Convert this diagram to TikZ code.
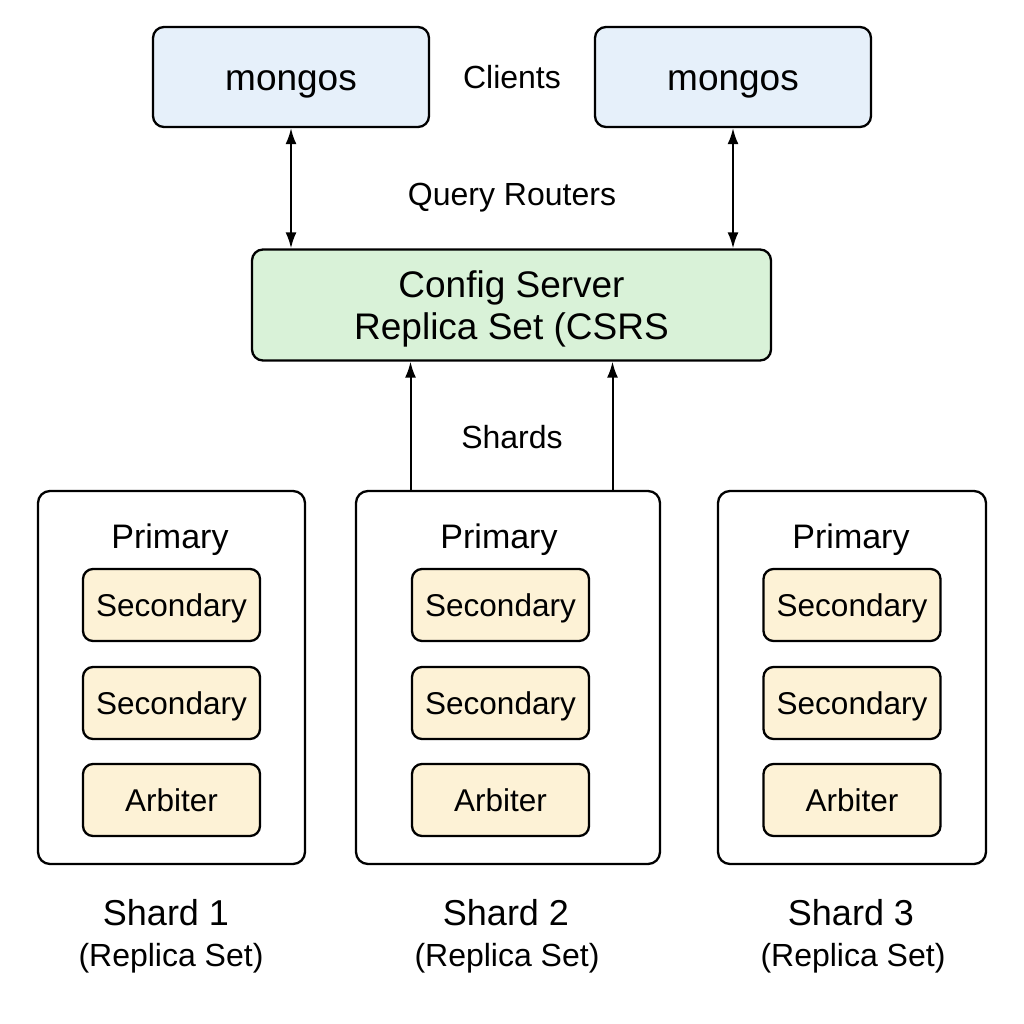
\documentclass[tikz,border=0pt]{standalone}
\usepackage{fontspec}
\setmainfont{Liberation Sans}
\usetikzlibrary{arrows.meta}
\definecolor{routerblue}{HTML}{E6F0FA}
\definecolor{configgreen}{HTML}{D9F2D8}
\definecolor{memberyellow}{HTML}{FDF2D6}
\begin{document}
\begin{tikzpicture}[x=1pt,y=-1pt,
		box/.style={draw,line width=2.3pt,rounded corners=11pt,inner sep=0pt},
		router/.style={box,fill=routerblue,minimum width=276pt,minimum height=100pt,text height=26.5pt,text depth=0pt,font=\fontsize{37}{42}\selectfont},
		member/.style={box,fill=memberyellow,rounded corners=10pt,minimum width=177pt,minimum height=72pt,text height=22.6pt,text depth=0pt,font=\fontsize{31.5}{36}\selectfont},
		shardbox/.style={box,fill=white,rounded corners=12pt,minimum height=373pt},
		lbl/.style={text height=23pt,text depth=0pt,font=\fontsize{32}{36}\selectfont},
		role/.style={text height=24.3pt,text depth=0pt,font=\fontsize{34}{38}\selectfont},
		title/.style={text height=25.8pt,text depth=0pt,font=\fontsize{36}{40}\selectfont},
		tip/.tip={Latex[length=16pt,width=11pt]},
		arr/.style={line width=2pt,-tip}]
		\useasboundingbox[fill=white] (0,0) rectangle (1024,1024);
		%%query routers
		\node[router] (mongosA) at (291,77) {mongos};
		\node[router] (mongosB) at (733,77) {mongos};
		\node[lbl] (clients) at (512,77) {Clients};
		\node[lbl] (routers) at (512,194) {Query Routers};
		%%config servers
		\node[box,fill=configgreen,minimum width=519pt,minimum height=111pt,align=center,text depth=0pt,font=\fontsize{37}{42}\selectfont] (config) at (511.5,305) {Config Server\\Replica Set (CSRS};
		\draw[arr,tip-tip] (mongosA.south) -- (mongosA.south |- config.north);
		\draw[arr,tip-tip] (mongosB.south) -- (mongosB.south |- config.north);
		%%shards
		\node[shardbox,minimum width=267pt] (shardA) at (171.5,677.5) {};
		\node[shardbox,minimum width=304pt] (shardB) at (508,677.5) {};
		\node[shardbox,minimum width=268pt] (shardC) at (852,677.5) {};
		\node[lbl] (shards) at (512,437) {Shards};
		\draw[arr] ([xshift=-101pt]config.south |- shardB.north) -- ([xshift=-101pt]config.south);
		\draw[arr] ([xshift=101pt]config.south |- shardB.north) -- ([xshift=101pt]config.south);
		%%shard 1
		\node[role] (primA) at (170,536) {Primary};
		\node[member] (secA1) at (171.5,605) {Secondary};
		\node[member] (secA2) at (171.5,703) {Secondary};
		\node[member] (arbA) at (171.5,800) {Arbiter};
		\node[title] (nameA) at (166,913) {Shard 1};
		\node[lbl] (typeA) at (171,955) {(Replica Set)};
		%%shard 2
		\node[role] (primB) at (499,536) {Primary};
		\node[member] (secB1) at (500.5,605) {Secondary};
		\node[member] (secB2) at (500.5,703) {Secondary};
		\node[member] (arbB) at (500.5,800) {Arbiter};
		\node[title] (nameB) at (506,913) {Shard 2};
		\node[lbl] (typeB) at (507,955) {(Replica Set)};
		%%shard 3
		\node[role] (primC) at (851,536) {Primary};
		\node[member] (secC1) at (852,605) {Secondary};
		\node[member] (secC2) at (852,703) {Secondary};
		\node[member] (arbC) at (852,800) {Arbiter};
		\node[title] (nameC) at (851,913) {Shard 3};
		\node[lbl] (typeC) at (853,955) {(Replica Set)};
	\end{tikzpicture}
\end{document}
